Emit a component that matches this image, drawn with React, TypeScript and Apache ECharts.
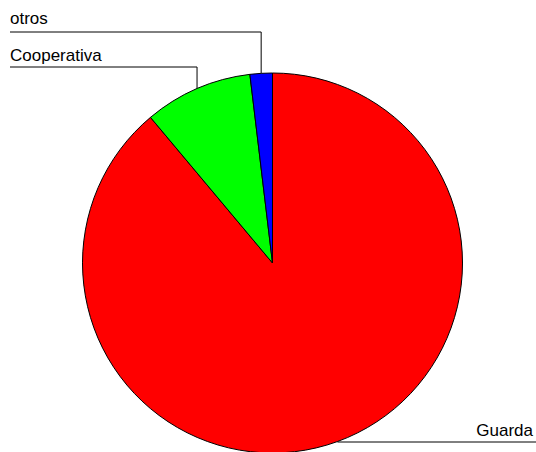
import React, { useEffect, useRef } from "react";
import * as echarts from "echarts";

const categories = ["Guarda", "Cooperativa", "otros"];
const values = [88.9, 9.2, 1.9];
const colors = ["#ff0000", "#00ff00", "#0000ff"];

export default function App() {
  const ref = useRef<HTMLDivElement>(null);
  useEffect(() => {
    const chart = echarts.init(ref.current!, null, { renderer: "svg" });
    const spots: Record<string, { lineY: number; textY: number; side: "left" | "right" }> = {
      otros: { lineY: 32, textY: 26.5, side: "left" },
      Cooperativa: { lineY: 67, textY: 64, side: "left" },
      Guarda: { lineY: 442, textY: 439, side: "right" },
    };
    chart.setOption({
      animation: false,
      series: [
        {
          type: "pie",
          center: [272.5, 263],
          radius: 190,
          startAngle: 90,
          clockwise: true,
          avoidLabelOverlap: false,
          data: categories.map((name, i) => ({
            name,
            value: values[i],
            itemStyle: { color: colors[i] },
          })),
          itemStyle: { borderColor: "#000", borderWidth: 1 },
          label: {
            show: true,
            formatter: "{b}",
            color: "#000",
            fontFamily: "Liberation Sans, Arial, sans-serif",
            fontSize: 17,
          },
          labelLine: {
            show: true,
            length: 10,
            length2: 10,
            lineStyle: { color: "#000", width: 1 },
          },
          emphasis: { disabled: true },
          labelLayout: (params: any) => {
            const name = categories[params.dataIndex];
            const s = spots[name];
            const p0 = params.labelLinePoints ? params.labelLinePoints[0] : [0, 0];
            const edgeX = s.side === "left" ? 10 : 536;
            const textX = s.side === "left" ? 10 : 533;
            return {
              x: textX,
              y: s.textY,
              align: s.side,
              verticalAlign: "bottom",
              labelLinePoints: [
                [p0[0], p0[1]],
                [p0[0], s.lineY],
                [edgeX, s.lineY],
              ],
            };
          },
        },
      ],
    });
    return () => chart.dispose();
  }, []);
  return (
    <div
      ref={ref}
      style={{ position: "absolute", left: 0, top: 0, width: 536, height: 452 }}
    />
  );
}
